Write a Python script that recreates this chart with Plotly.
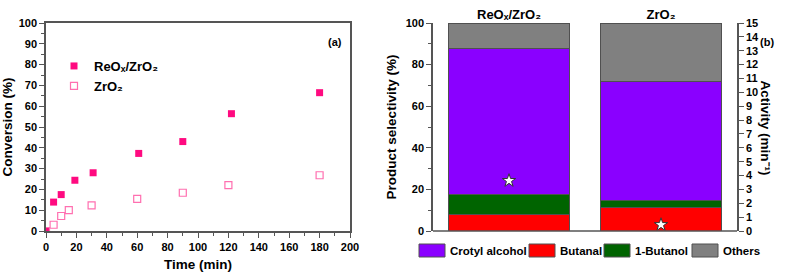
import plotly.graph_objects as go

# ---------------- data ----------------
time_reox = [0, 5, 10, 19, 31, 61, 90, 122, 180]
conv_reox = [0, 13.9, 17.5, 24.4, 28.0, 37.3, 43.0, 56.4, 66.5]
time_zro2 = [0, 5, 10, 15, 30, 60, 90, 120, 180]
conv_zro2 = [0, 3.0, 7.2, 10.0, 12.3, 15.4, 18.4, 22.1, 26.8]

catalysts = ["ReO\u2093/ZrO\u2082", "ZrO\u2082"]
products = ["Crotyl alcohol", "Butanal", "1-Butanol", "Others"]
sel_butanal = [8.0, 11.4]
sel_butanol = [9.6, 3.5]
sel_crotyl = [70.2, 57.2]
sel_others = [12.2, 27.9]
activity = [3.63, 0.45]

# ---------------- style ----------------
W, H = 786, 276
FONT = "Liberation Sans"
AX = "#555555"
PINK = "#FF0A80"
PINK_OPEN = "#FF6FB0"
colors = {"Crotyl alcohol": "#8A00FF", "Butanal": "#FF0000",
          "1-Butanol": "#006400", "Others": "#808080"}


def px(x):
    return x / W


def py(y):
    return 1 - y / H


fig = go.Figure()

# ---- panel (a) ----
fig.add_trace(go.Scatter(
    x=time_reox, y=conv_reox, mode="markers", name=catalysts[0],
    marker=dict(symbol="square", size=7, color=PINK, line=dict(width=0)),
    xaxis="x", yaxis="y", legend="legend"))
fig.add_trace(go.Scatter(
    x=time_zro2, y=conv_zro2, mode="markers", name=catalysts[1],
    marker=dict(symbol="square-open", size=7, color=PINK_OPEN, line=dict(width=1.2)),
    xaxis="x", yaxis="y", legend="legend"))

# ---- panel (b) ----
stack = [("Butanal", sel_butanal), ("1-Butanol", sel_butanol),
         ("Crotyl alcohol", sel_crotyl), ("Others", sel_others)]
for name, vals in stack:
    fig.add_trace(go.Bar(
        x=catalysts, y=vals, name=name, showlegend=False,
        marker=dict(color=colors[name], line=dict(color="#505050", width=1)),
        width=0.8, xaxis="x2", yaxis="y2"))

fig.add_trace(go.Scatter(
    x=catalysts, y=activity, mode="markers", showlegend=False,
    marker=dict(symbol="star", size=10, color="white", line=dict(color="#333333", width=1)),
    xaxis="x2", yaxis="y3"))

tickfont = dict(family=FONT, size=11, color="black", weight="bold")
titlefont = dict(family=FONT, size=13.5, color="black", weight="bold")

common_y = dict(showline=True, linecolor=AX, linewidth=1.5, ticks="outside",
                ticklen=5, tickwidth=1.2, tickcolor=AX, tickfont=tickfont,
                showgrid=False, zeroline=False, automargin=False)

fig.update_layout(
    width=W, height=H, margin=dict(l=0, r=0, t=0, b=0, autoexpand=False),
    paper_bgcolor="white", plot_bgcolor="white",
    font=dict(family=FONT, color="black", weight="bold"),
    barmode="stack",
    xaxis=dict(domain=[px(46), px(350)], range=[0, 200], dtick=20,
               showline=True, mirror=True, linecolor=AX, linewidth=1.5,
               ticks="outside", ticklen=5, tickwidth=1.2, tickcolor=AX,
               minor=dict(dtick=10, ticks="outside", ticklen=3, tickcolor=AX),
               tickfont=tickfont, showgrid=False, zeroline=False, automargin=False,
               title=dict(text="Time (min)", font=titlefont, standoff=8),
               anchor="y"),
    yaxis=dict(domain=[py(231), py(23)], range=[0, 100], dtick=10, mirror=True,
               minor=dict(dtick=5, ticks="outside", ticklen=3, tickcolor=AX),
               title=dict(text="Conversion (%)", font=titlefont, standoff=4),
               anchor="x", **common_y),
    xaxis2=dict(domain=[px(433), px(737)], type="category", range=[-0.5, 1.5],
                side="top", showline=False, ticks="", showgrid=False, automargin=False,
                tickfont=dict(family=FONT, size=13, color="black", weight="bold"),
                anchor="y2"),
    yaxis2=dict(domain=[py(231), py(23)], range=[0, 100], dtick=20,
                minor=dict(dtick=10, ticks="outside", ticklen=3, tickcolor=AX),
                title=dict(text="Product selectivity (%)", font=titlefont, standoff=6),
                anchor="x2", **common_y),
    yaxis3=dict(overlaying="y2", side="right", anchor="x2", range=[0, 15], dtick=1,
                **common_y),
    legend=dict(x=px(54), y=py(51), xanchor="left", yanchor="top", traceorder="normal",
                bgcolor="rgba(0,0,0,0)", font=dict(family=FONT, size=13, color="black", weight="bold"),
                tracegroupgap=0),
)

shapes = []
annotations = []
# bottom frame line of panel (b)
shapes.append(dict(type="line", xref="paper", yref="paper", x0=px(433), x1=px(737),
                   y0=py(231), y1=py(231), line=dict(color=AX, width=1.5)))

# bar legend for panel (b)
legend_box_x = [419, 529, 604, 692]
for name, x0 in zip(products, legend_box_x):
    shapes.append(dict(type="rect", xref="paper", yref="paper",
                       x0=px(x0), x1=px(x0 + 26), y0=py(257), y1=py(244),
                       fillcolor=colors[name], line=dict(color="#505050", width=1)))
    annotations.append(dict(xref="paper", yref="paper", x=px(x0 + 29), y=py(250.5),
                            xanchor="left", yanchor="middle", text=name, showarrow=False,
                            font=dict(family=FONT, size=11.5, color="black", weight="bold")))

annotations.append(dict(xref="paper", yref="paper", x=px(335), y=py(34), text="(a)",
                        showarrow=False, font=dict(family=FONT, size=11, color="black", weight="bold")))
annotations.append(dict(xref="paper", yref="paper", x=px(776), y=py(34), text="(b)",
                        showarrow=False, font=dict(family=FONT, size=11, color="black", weight="bold")))
annotations.append(dict(xref="paper", yref="paper", x=px(775), y=py(128),
                        text="Activity (min\u207b\u00b9)", textangle=90, showarrow=False,
                        font=titlefont))

fig.update_layout(shapes=shapes, annotations=annotations)

fig.write_html("out.html")
